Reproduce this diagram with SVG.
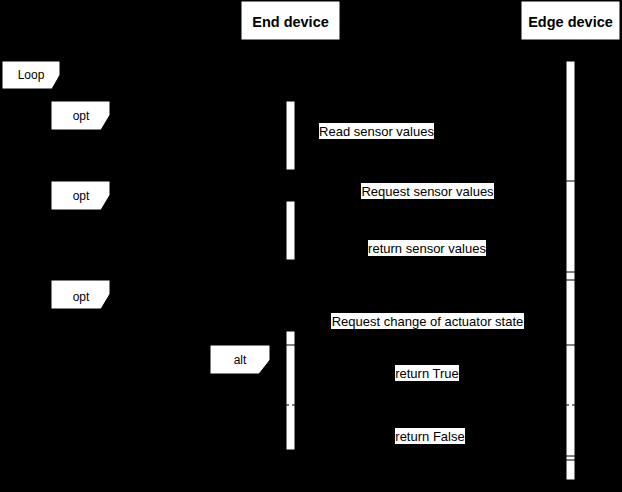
<svg xmlns="http://www.w3.org/2000/svg" width="622" height="492" viewBox="0 0 622 492">
<defs>
<style>
.bg{fill:#000}
.hdr{fill:#fff;stroke:#000;stroke-width:1}
.hdrt{font-family:"Liberation Sans",Arial,sans-serif;font-size:14.5px;font-weight:bold;fill:#000;text-anchor:middle}
.life{stroke:#000;stroke-width:1;stroke-dasharray:3,3;fill:none}
.bar{fill:#fff;stroke:#000;stroke-width:1}
.frame{fill:none;stroke:#000;stroke-width:1}
.flab{fill:#fff;stroke:#000;stroke-width:1}
.ft{font-family:"Liberation Sans",Arial,sans-serif;font-size:12px;fill:#000;text-anchor:middle}
.msg{stroke:#000;stroke-width:1;fill:none}
.ret{stroke:#000;stroke-width:1;fill:none;stroke-dasharray:3,3}
.lbg{fill:#fff}
.lt{font-family:"Liberation Sans",Arial,sans-serif;font-size:13px;fill:#000;text-anchor:middle}
.div{stroke:#000;stroke-width:1;stroke-dasharray:3,3;fill:none}
</style>
<marker id="arr" viewBox="0 0 10 10" refX="10" refY="5" markerWidth="8" markerHeight="8" orient="auto">
<path d="M0,0 L10,5 L0,10 z" fill="#000"/>
</marker>
<marker id="open" viewBox="0 0 10 10" refX="10" refY="5" markerWidth="8" markerHeight="8" orient="auto">
<path d="M0,0 L10,5 L0,10" fill="none" stroke="#000"/>
</marker>
</defs>
<rect class="bg" x="0" y="0" width="622" height="492"/>

<g id="frames">
<g id="loop-frame">
<rect class="frame" x="2" y="61" width="614" height="428"/>
<path class="flab" d="M2,61 H60 V75 L52,89 H2 Z"/>
<text class="ft" x="31" y="79">Loop</text>
</g>
<g id="opt1-frame">
<rect class="frame" x="51" y="101" width="449" height="72"/>
<path class="flab" d="M51,101 H110 V115 L101,130 H51 Z"/>
<text class="ft" x="81" y="120">opt</text>
</g>
<g id="opt2-frame">
<rect class="frame" x="51" y="181" width="549" height="91"/>
<path class="flab" d="M51,181 H110 V195 L101,210 H51 Z"/>
<text class="ft" x="81" y="200">opt</text>
</g>
<g id="opt3-frame">
<rect class="frame" x="51" y="280" width="549" height="180"/>
<path class="flab" d="M51,280 H110 V294 L101,309 H51 Z"/>
<text class="ft" x="81" y="301">opt</text>
</g>
<g id="alt-frame">
<rect class="frame" x="210" y="345" width="380" height="111"/>
<line class="div" x1="210" y1="405" x2="590" y2="405"/>
<path class="flab" d="M210,345 H270 V360 L259,374 H210 Z"/>
<text class="ft" x="240" y="364">alt</text>
</g>
</g>

<g id="end-device">
<rect class="hdr" x="241" y="1" width="99" height="39"/>
<text class="hdrt" x="290.5" y="27">End device</text>
<line class="life" x1="290.5" y1="40" x2="290.5" y2="490"/>
<rect class="bar" x="286" y="101" width="9" height="69"/>
<rect class="bar" x="286" y="201" width="9" height="59"/>
<rect class="bar" x="286" y="331" width="9" height="119"/>
</g>

<g id="edge-device">
<rect class="hdr" x="521" y="1" width="99" height="39"/>
<text class="hdrt" x="570.5" y="27">Edge device</text>
<line class="life" x1="570.5" y1="40" x2="570.5" y2="490"/>
<rect class="bar" x="566" y="61" width="9" height="419"/>
</g>

<g id="frame-edges-over-bars">
<line class="frame" x1="566" y1="181" x2="575" y2="181"/>
<line class="frame" x1="566" y1="272" x2="575" y2="272"/>
<line class="frame" x1="566" y1="280" x2="575" y2="280"/>
<line class="frame" x1="286" y1="345" x2="295" y2="345"/>
<line class="frame" x1="566" y1="345" x2="575" y2="345"/>
<line class="div" x1="286" y1="405" x2="295" y2="405"/>
<line class="div" x1="566" y1="405" x2="575" y2="405"/>
<line class="frame" x1="566" y1="456" x2="575" y2="456"/>
<line class="frame" x1="566" y1="460" x2="575" y2="460"/>
</g>

<g id="connectors">
<path class="msg" d="M295,112 H376 V150 H296" marker-end="url(#arr)"/>
<line class="msg" x1="566" y1="201" x2="296" y2="201" marker-end="url(#arr)"/>
<line class="ret" x1="295" y1="257" x2="565" y2="257" marker-end="url(#open)"/>
<line class="msg" x1="566" y1="331" x2="296" y2="331" marker-end="url(#arr)"/>
<line class="ret" x1="295" y1="382" x2="565" y2="382" marker-end="url(#open)"/>
<line class="ret" x1="295" y1="445" x2="565" y2="445" marker-end="url(#open)"/>
</g>

<g id="labels">
<rect class="lbg" x="319" y="123" width="115" height="16"/>
<text class="lt" x="376.5" y="135.5">Read sensor values</text>
<rect class="lbg" x="361" y="183" width="133" height="16"/>
<text class="lt" x="427.5" y="195.5">Request sensor values</text>
<rect class="lbg" x="368" y="240" width="118" height="16"/>
<text class="lt" x="427" y="252.5">return sensor values</text>
<rect class="lbg" x="331" y="313" width="193" height="16"/>
<text class="lt" x="427.5" y="325.5">Request change of actuator state</text>
<rect class="lbg" x="395" y="365" width="64" height="16"/>
<text class="lt" x="427" y="377.5">return True</text>
<rect class="lbg" x="395" y="428" width="70" height="16"/>
<text class="lt" x="430" y="440.5">return False</text>
</g>
</svg>
